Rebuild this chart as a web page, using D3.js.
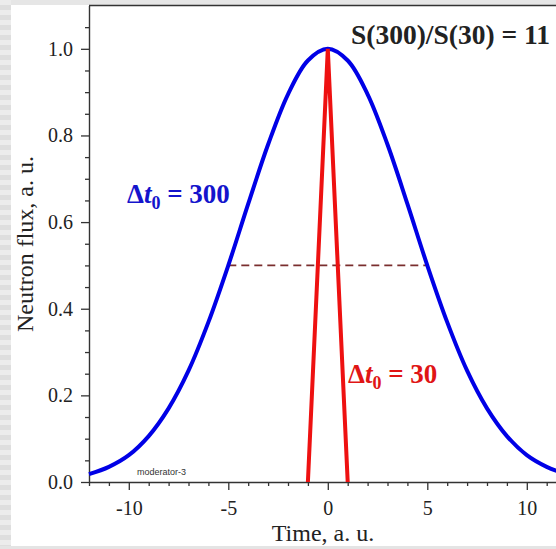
<!DOCTYPE html>
<html>
<head>
<meta charset="utf-8">
<script src="https://cdn.jsdelivr.net/npm/d3@7"></script>
<style>
  html, body { margin: 0; padding: 0; overflow: hidden; background: #fff; }
  svg { display: block; }
</style>
</head>
<body>
<svg id="chart" width="556" height="549"></svg>
<script>
// data
var timeBroad = [-12, -11, -10, -9, -8, -7, -6, -5, -4, -3, -2, -1, 0, 1, 2, 3, 4, 5, 6, 7, 8, 9, 10, 11, 12];
var fluxBroad = [0.018, 0.035, 0.062, 0.106, 0.170, 0.257, 0.369, 0.500, 0.642, 0.779, 0.895, 0.973, 1.0,
                 0.973, 0.895, 0.779, 0.642, 0.500, 0.369, 0.257, 0.170, 0.106, 0.062, 0.035, 0.018];
var timeNarrow = [-1, 0, 1];
var fluxNarrow = [0, 1.0, 0];
var halfTime = [-5, 5];
var halfFlux = [0.5, 0.5];
var xMajor = [-10, -5, 0, 5, 10];
var xMinor = [-12, -11, -9, -8, -7, -6, -4, -3, -2, -1, 1, 2, 3, 4, 6, 7, 8, 9, 11, 12];
var yMajor = [0, 0.2, 0.4, 0.6, 0.8, 1.0];
var yMinor = [0.05, 0.1, 0.15, 0.25, 0.3, 0.35, 0.45, 0.5, 0.55, 0.65, 0.7, 0.75, 0.85, 0.9, 0.95, 1.05];

(function drawChart() {
  var svg = d3.select('#chart');
  var serif = '"Liberation Serif", "Times New Roman", serif';

  // gray page edges with stripes
  var defs = svg.append('defs');
  var pat = defs.append('pattern')
    .attr('id', 'stripes')
    .attr('patternUnits', 'userSpaceOnUse')
    .attr('width', 12).attr('height', 10);
  pat.append('rect').attr('width', 12).attr('height', 10).attr('fill', '#ececec');
  pat.append('rect').attr('y', 5).attr('width', 12).attr('height', 5).attr('fill', '#dedede');

  svg.append('rect').attr('x', 0).attr('y', 0).attr('width', 556).attr('height', 5).attr('fill', '#e6e6e6');
  svg.append('rect').attr('x', 0).attr('y', 0).attr('width', 11).attr('height', 549).attr('fill', 'url(#stripes)');
  svg.append('rect').attr('x', 0).attr('y', 546).attr('width', 556).attr('height', 3).attr('fill', '#e4e4e4');

  var x = d3.scaleLinear().domain([-12, 12]).range([89, 566.6]);
  var y = d3.scaleLinear().domain([0, 1.1]).range([482, 5.5]);

  var axisColor = '#333';

  // minor ticks
  svg.append('g')
    .attr('transform', 'translate(0,' + y(0) + ')')
    .call(d3.axisBottom(x).tickValues(xMinor).tickSize(4).tickSizeOuter(0).tickFormat(''))
    .call(function (g) { g.select('.domain').remove(); });
  svg.append('g')
    .attr('transform', 'translate(' + x(-12) + ',0)')
    .call(d3.axisLeft(y).tickValues(yMinor).tickSize(4).tickSizeOuter(0).tickFormat(''))
    .call(function (g) { g.select('.domain').remove(); });

  // major axes
  var xAxis = svg.append('g')
    .attr('transform', 'translate(0,' + y(0) + ')')
    .call(d3.axisBottom(x).tickValues(xMajor).tickSize(8).tickSizeOuter(0).tickPadding(11)
      .tickFormat(d3.format('d')));
  var yAxis = svg.append('g')
    .attr('transform', 'translate(' + x(-12) + ',0)')
    .call(d3.axisLeft(y).tickValues(yMajor).tickSize(8).tickSizeOuter(0).tickPadding(8)
      .tickFormat(d3.format('.1f')));

  svg.selectAll('.tick line').attr('stroke', axisColor).attr('stroke-width', 1.3);
  svg.selectAll('.domain').attr('stroke', axisColor).attr('stroke-width', 1.4);
  svg.selectAll('.tick text')
    .attr('font-family', serif).attr('font-size', 20).attr('fill', '#222');
  xAxis.selectAll('.tick text').text(function (d) { return d < 0 ? '-' + Math.abs(d) : d; });

  // top frame
  svg.append('line')
    .attr('x1', x(-12)).attr('x2', x(12))
    .attr('y1', y(1.1)).attr('y2', y(1.1))
    .attr('stroke', axisColor).attr('stroke-width', 1.4);
  svg.append('line')
    .attr('x1', x(12)).attr('x2', x(12))
    .attr('y1', y(1.1)).attr('y2', y(0))
    .attr('stroke', axisColor).attr('stroke-width', 1.4);

  // half-maximum dashed line
  svg.append('path')
    .datum(d3.zip(halfTime, halfFlux))
    .attr('d', d3.line().x(function (d) { return x(d[0]); }).y(function (d) { return y(d[1]); }))
    .attr('fill', 'none')
    .attr('stroke', '#7a2e2e')
    .attr('stroke-width', 1.8)
    .attr('stroke-dasharray', '8,5');

  // broad pulse
  svg.append('path')
    .datum(d3.zip(timeBroad, fluxBroad))
    .attr('d', d3.line().curve(d3.curveCatmullRom)
      .x(function (d) { return x(d[0]); }).y(function (d) { return y(d[1]); }))
    .attr('fill', 'none')
    .attr('stroke', '#0000e6')
    .attr('stroke-width', 4);

  // narrow pulse
  svg.append('path')
    .datum(d3.zip(timeNarrow, fluxNarrow))
    .attr('d', d3.line().x(function (d) { return x(d[0]); }).y(function (d) { return y(d[1]); }))
    .attr('fill', 'none')
    .attr('stroke', '#ee1111')
    .attr('stroke-width', 4)
    .attr('stroke-linejoin', 'miter');

  // labels
  svg.append('text')
    .attr('x', 323).attr('y', 541)
    .attr('text-anchor', 'middle')
    .attr('font-family', serif).attr('font-size', 24).attr('fill', '#222')
    .text('Time, a. u.');

  svg.append('text')
    .attr('transform', 'translate(33,244) rotate(-90)')
    .attr('text-anchor', 'middle')
    .attr('font-family', serif).attr('font-size', 24).attr('fill', '#222')
    .text('Neutron flux, a. u.');

  svg.append('text')
    .attr('x', 351).attr('y', 44)
    .attr('font-family', serif).attr('font-size', 27.5).attr('font-weight', 'bold').attr('fill', '#222')
    .text('S(300)/S(30) = 11');

  function pulseLabel(px, py, color, width) {
    var t = svg.append('text')
      .attr('x', px).attr('y', py)
      .attr('font-family', serif).attr('font-size', 27).attr('font-weight', 'bold').attr('fill', color);
    t.append('tspan').text('\u0394');
    t.append('tspan').attr('font-style', 'italic').text('t');
    t.append('tspan').attr('font-size', 18).attr('dy', 6).text('0');
    t.append('tspan').attr('dy', -6).text(' = ' + width);
  }
  pulseLabel(127, 203, '#1414cc', 300);
  pulseLabel(348, 383, '#e01515', 30);

  svg.append('text')
    .attr('x', 137).attr('y', 475)
    .attr('font-family', '"Liberation Sans", Arial, sans-serif')
    .attr('font-size', 9).attr('fill', '#333')
    .text('moderator-3');
})();
</script>
</body>
</html>
